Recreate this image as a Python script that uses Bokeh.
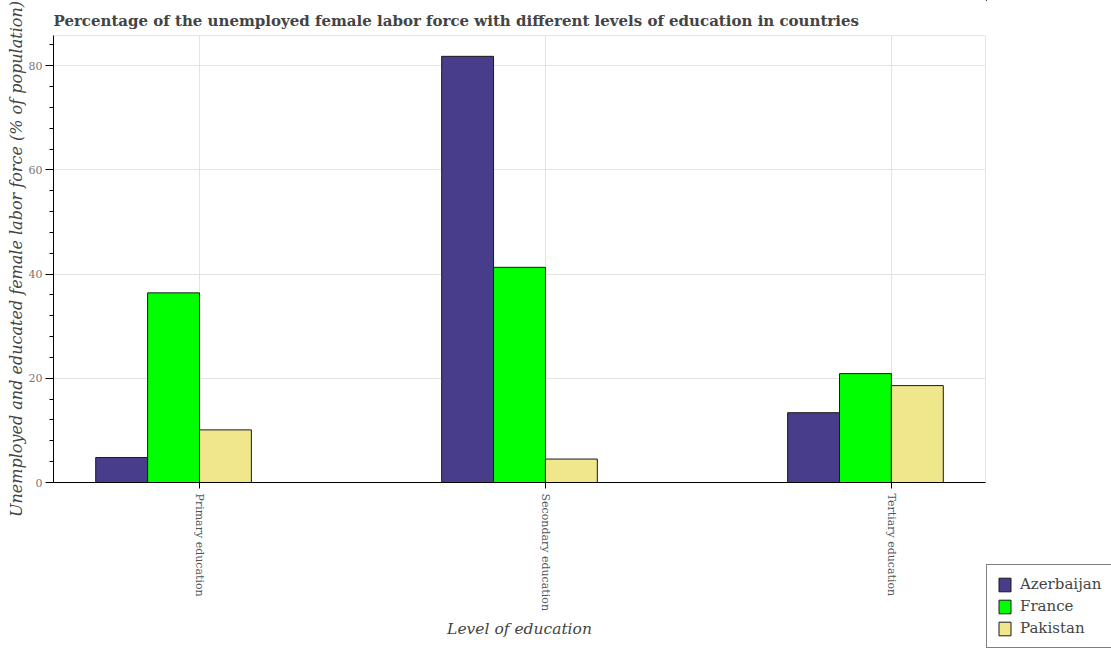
import math
import numpy as np
from bokeh.plotting import figure
from bokeh.layouts import row
from bokeh.models import (ColumnDataSource, Range1d, FixedTicker, SingleIntervalTicker,
                          Legend, LegendItem)
from bokeh.transform import dodge
from bokeh.embed import file_html
from bokeh.resources import INLINE

# data
levels = ["Primary education", "Secondary education", "Tertiary education"]
countries = ["Azerbaijan", "France", "Pakistan"]
azerbaijan = [4.8, 81.8, 13.4]
france = [36.4, 41.3, 20.9]
pakistan = [10.1, 4.5, 18.6]
y_ticks = [0, 20, 40, 60, 80]

colors = ["#483D8B", "#00FF00", "#F0E68C"]
serif = "DejaVu Serif"

src = ColumnDataSource(data=dict(
    pos=list(range(len(levels))),
    Azerbaijan=azerbaijan,
    France=france,
    Pakistan=pakistan,
))

p = figure(width=986, height=650, output_backend="svg", toolbar_location=None,
           x_range=Range1d(-0.422, 2.272), y_range=Range1d(0, 85.8),
           title="Percentage of the unemployed female labor force with different levels of education in countries",
           min_border_left=53, min_border_right=1, min_border_top=35, min_border_bottom=168)

bar_w = 0.15
offsets = [-0.225, -0.075, 0.075]
for name, col, off in zip(countries, colors, offsets):
    p.vbar(x=dodge("pos", off, range=p.x_range), top=name, width=bar_w, source=src,
           fill_color=col, line_color="#1a1a1a", line_width=1)

# title
p.title.text_font = serif
p.title.text_font_size = "15px"
p.title.text_font_style = "bold"
p.title.text_color = "#444444"
p.title.align = "left"
p.title.standoff = 12

# frame
p.outline_line_color = "#e6e6e6"
p.background_fill_color = "white"
p.border_fill_color = "white"

# x axis
p.xaxis.ticker = FixedTicker(ticks=list(range(len(levels))))
p.xaxis.major_label_overrides = {i: lab for i, lab in enumerate(levels)}
p.xaxis.major_label_orientation = -math.pi / 2
p.xaxis.major_label_text_font = serif
p.xaxis.major_label_text_font_size = "11px"
p.xaxis.major_label_text_color = "#555555"
p.xaxis.major_label_standoff = 5
p.xaxis.major_tick_out = 6
p.xaxis.major_tick_in = 0
p.xaxis.minor_tick_out = 0
p.xaxis.minor_tick_in = 0
p.xaxis.axis_label = "Level of education"
p.xaxis.axis_label_text_font = serif
p.xaxis.axis_label_text_font_size = "15.5px"
p.xaxis.axis_label_text_font_style = "italic"
p.xaxis.axis_label_text_color = "#444444"
p.xaxis.axis_label_standoff = 6
p.xaxis.axis_line_color = "black"

# y axis
p.yaxis.ticker = SingleIntervalTicker(interval=20, num_minor_ticks=5)
p.yaxis.major_label_text_font = serif
p.yaxis.major_label_text_font_size = "11px"
p.yaxis.major_label_text_color = "#777777"
p.yaxis.major_label_standoff = 3
p.yaxis.major_tick_out = 8
p.yaxis.major_tick_in = 0
p.yaxis.minor_tick_out = 4
p.yaxis.minor_tick_in = 0
p.yaxis.axis_label = "Unemployed and educated female labor force (% of population)"
p.yaxis.axis_label_text_font = serif
p.yaxis.axis_label_text_font_size = "16px"
p.yaxis.axis_label_text_font_style = "italic"
p.yaxis.axis_label_text_color = "#444444"
p.yaxis.axis_label_standoff = 0
p.yaxis.axis_line_color = "black"

# grid
p.xgrid.ticker = FixedTicker(ticks=list(range(len(levels))))
p.ygrid.ticker = FixedTicker(ticks=y_ticks)
p.xgrid.grid_line_color = "#e3e3e3"
p.ygrid.grid_line_color = "#e3e3e3"

# narrow strip on the right that only holds the legend (bottom right corner);
# its glyphs use the same data but its ranges keep them out of sight
lp = figure(width=125, height=650, output_backend="svg", toolbar_location=None,
            x_range=Range1d(10, 11), y_range=Range1d(-10, -9),
            x_axis_location=None, y_axis_location=None, min_border=0)
lp.frame_align = False
lp.outline_line_color = None
lp.grid.visible = False
lp.border_fill_color = "white"
items = []
for name, col in zip(countries, colors):
    r = lp.vbar(x="pos", top=name, width=bar_w, source=src,
                fill_color=col, line_color="#1a1a1a", line_width=1)
    items.append(LegendItem(label=name, renderers=[r]))

legend = Legend(items=items, location=(0, 2))
legend.label_text_font = serif
legend.label_text_font_size = "15px"
legend.label_text_color = "#444444"
legend.border_line_color = "black"
legend.border_line_width = 1
legend.background_fill_alpha = 1
legend.padding = 10
legend.spacing = 4
legend.glyph_width = 15
legend.glyph_height = 17
legend.label_height = 17
legend.label_standoff = 8
legend.margin = 0
lp.add_layout(legend)

layout = row(p, lp, spacing=0)

open("out.html", "w").write(file_html(layout, INLINE))
